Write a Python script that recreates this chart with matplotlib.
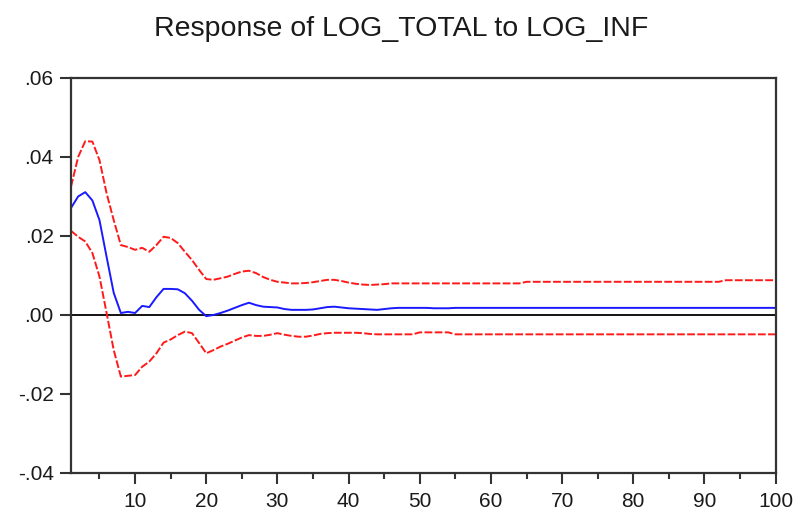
import numpy as np
import matplotlib
matplotlib.use('Agg')
import matplotlib.pyplot as plt
from matplotlib.ticker import MultipleLocator

plt.rcParams['font.family'] = ['Liberation Sans', 'DejaVu Sans']

periods = np.arange(1, 101)

# impulse response of LOG_TOTAL to a LOG_INF shock
response = [
    0.0271, 0.0300, 0.0311, 0.0290, 0.0240, 0.0147, 0.0056, 0.0005, 0.0008, 0.0005,
    0.0023, 0.0020, 0.0045, 0.0066, 0.0066, 0.0065, 0.0055, 0.0036, 0.0013, -0.0003,
    0.0000, 0.0005, 0.0011, 0.0018, 0.0025, 0.0031, 0.0025, 0.0021, 0.0020, 0.0019,
    0.0015, 0.0013, 0.0013, 0.0013, 0.0014, 0.0017, 0.0020, 0.0021, 0.0019, 0.0017,
    0.0016, 0.0015, 0.0014, 0.0013, 0.0015, 0.0017, 0.0018, 0.0018, 0.0018, 0.0018,
    0.0018, 0.0017, 0.0017, 0.0017, 0.0018, 0.0018, 0.0018, 0.0018, 0.0018, 0.0018,
    0.0018, 0.0018, 0.0018, 0.0018, 0.0018, 0.0018, 0.0018, 0.0018, 0.0018, 0.0018,
    0.0018, 0.0018, 0.0018, 0.0018, 0.0018, 0.0018, 0.0018, 0.0018, 0.0018, 0.0018,
    0.0018, 0.0018, 0.0018, 0.0018, 0.0018, 0.0018, 0.0018, 0.0018, 0.0018, 0.0018,
    0.0018, 0.0018, 0.0018, 0.0018, 0.0018, 0.0018, 0.0018, 0.0018, 0.0018, 0.0018,
]

# +/- 2 S.E. bands
upper = [
    0.0325, 0.0400, 0.0440, 0.0439, 0.0392, 0.0308, 0.0240, 0.0177, 0.0172, 0.0165,
    0.0170, 0.0160, 0.0177, 0.0198, 0.0195, 0.0182, 0.0160, 0.0139, 0.0114, 0.0091,
    0.0089, 0.0093, 0.0097, 0.0104, 0.0110, 0.0112, 0.0106, 0.0096, 0.0089, 0.0084,
    0.0082, 0.0080, 0.0080, 0.0081, 0.0083, 0.0086, 0.0089, 0.0089, 0.0086, 0.0082,
    0.0079, 0.0077, 0.0076, 0.0077, 0.0078, 0.0080, 0.0080, 0.0080, 0.0080, 0.0080,
    0.0080, 0.0080, 0.0080, 0.0080, 0.0080, 0.0080, 0.0080, 0.0080, 0.0080, 0.0080,
    0.0080, 0.0080, 0.0080, 0.0080, 0.0084, 0.0084, 0.0084, 0.0084, 0.0084, 0.0084,
    0.0084, 0.0084, 0.0084, 0.0084, 0.0084, 0.0084, 0.0084, 0.0084, 0.0084, 0.0084,
    0.0084, 0.0084, 0.0084, 0.0084, 0.0084, 0.0084, 0.0084, 0.0084, 0.0084, 0.0084,
    0.0084, 0.0084, 0.0088, 0.0088, 0.0088, 0.0088, 0.0088, 0.0088, 0.0088, 0.0088,
]

lower = [
    0.0213, 0.0198, 0.0186, 0.0157, 0.0097, 0.0005, -0.0089, -0.0156, -0.0154, -0.0152,
    -0.0131, -0.0118, -0.0097, -0.0070, -0.0062, -0.0051, -0.0042, -0.0046, -0.0071, -0.0097,
    -0.0089, -0.0080, -0.0073, -0.0065, -0.0057, -0.0051, -0.0053, -0.0053, -0.0050, -0.0046,
    -0.0050, -0.0053, -0.0055, -0.0055, -0.0052, -0.0048, -0.0046, -0.0045, -0.0045, -0.0045,
    -0.0045, -0.0046, -0.0048, -0.0049, -0.0049, -0.0049, -0.0049, -0.0049, -0.0049, -0.0044,
    -0.0044, -0.0044, -0.0044, -0.0044, -0.0049, -0.0049, -0.0049, -0.0049, -0.0049, -0.0049,
    -0.0049, -0.0049, -0.0049, -0.0049, -0.0049, -0.0049, -0.0049, -0.0049, -0.0049, -0.0049,
    -0.0049, -0.0049, -0.0049, -0.0049, -0.0049, -0.0049, -0.0049, -0.0049, -0.0049, -0.0049,
    -0.0049, -0.0049, -0.0049, -0.0049, -0.0049, -0.0049, -0.0049, -0.0049, -0.0049, -0.0049,
    -0.0049, -0.0049, -0.0049, -0.0049, -0.0049, -0.0049, -0.0049, -0.0049, -0.0049, -0.0049,
]

y_ticks = [-0.04, -0.02, 0.00, 0.02, 0.04, 0.06]
y_labels = ['-.04', '-.02', '.00', '.02', '.04', '.06']
x_ticks = [10, 20, 30, 40, 50, 60, 70, 80, 90, 100]

fig = plt.figure(figsize=(7.98, 5.13), dpi=100)
ax = fig.add_axes([0.089, 0.078, 0.883, 0.770])

ax.axhline(0, color='black', linewidth=1.3, zorder=1)
ax.plot(periods, upper, color='#ff1a1a', linewidth=1.4, linestyle=(0, (4, 1.2)))
ax.plot(periods, lower, color='#ff1a1a', linewidth=1.4, linestyle=(0, (4, 1.2)))
ax.plot(periods, response, color='#1a1aff', linewidth=1.4)

ax.set_xlim(1, 100)
ax.set_ylim(-0.04, 0.06)
ax.set_yticks(y_ticks)
ax.set_yticklabels(y_labels)
ax.set_xticks(x_ticks)
ax.xaxis.set_minor_locator(MultipleLocator(5))

for s in ax.spines.values():
    s.set_linewidth(1.6)
    s.set_color('#333333')

ax.tick_params(axis='both', which='major', direction='out', length=8,
               width=1.5, color='#333333', labelsize=15, labelcolor='#1a1a1a')
ax.tick_params(axis='y', which='major', pad=4.5)
ax.tick_params(axis='x', which='major', pad=6)
ax.tick_params(axis='x', which='minor', direction='out', length=4.5,
               width=1.5, color='#333333')

fig.text(0.503, 0.943, 'Response of LOG_TOTAL to LOG_INF', ha='center',
         va='center', fontsize=20.5, color='#1a1a1a')

fig.savefig('out.png', dpi=100)
